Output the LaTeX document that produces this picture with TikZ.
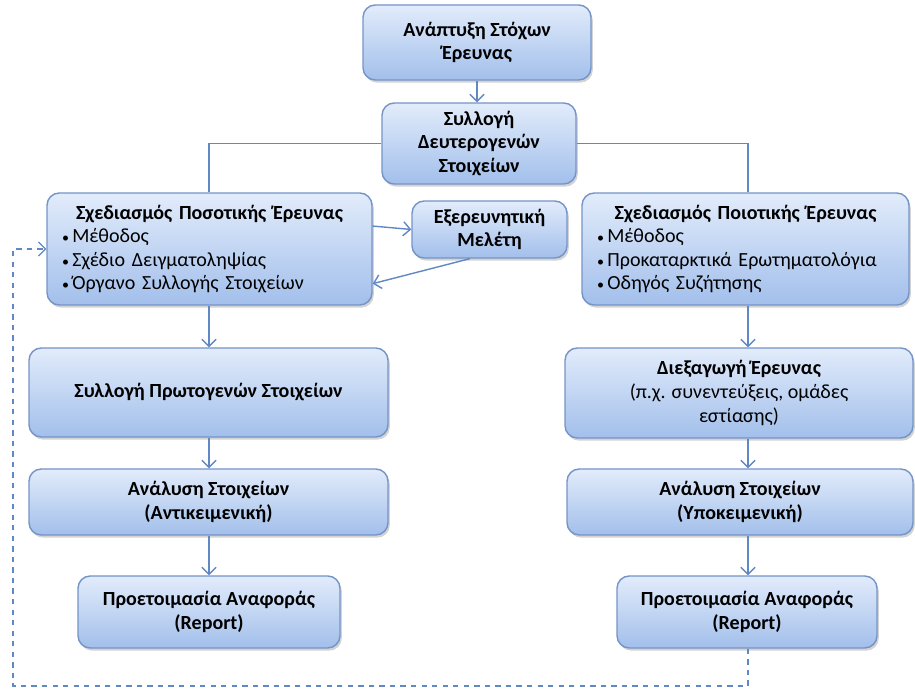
\documentclass[tikz,border=0pt]{standalone}
\usepackage{fontspec}
\setmainfont{Carlito}
\usepackage{xcolor}
\definecolor{boxtop}{RGB}{226,236,251}
\definecolor{boxbottom}{RGB}{162,191,235}
\definecolor{boxedge}{RGB}{116,148,200}
\definecolor{linkblue}{RGB}{96,136,196}
\usepackage{tikz}
\usetikzlibrary{arrows.meta, shadows}

\newcommand{\itembullet}{{\fontsize{8}{8}\selectfont\textbullet}\,}

\tikzset{
  stepbox/.style={draw=boxedge, line width=0.8pt, rounded corners=7pt,
    top color=boxtop, bottom color=boxbottom, align=center, inner sep=2pt,
    font=\fontsize{11.4}{13.4}\selectfont\bfseries,
    drop shadow={opacity=0.35, shadow xshift=1pt, shadow yshift=-1.5pt}},
  listbox/.style={stepbox, align=left, inner xsep=0.3cm,
    font=\fontsize{11.4}{13.4}\selectfont},
  joinline/.style={draw=linkblue, line width=0.8pt},
  link/.style={joinline, -{Straight Barb[length=4pt, width=8pt]}},
  feedback/.style={link, line width=0.7pt, dashed}
}

\begin{document}
\begin{tikzpicture}
  \useasboundingbox (0,0) rectangle (18.3,13.78);

  % Top of the chart
  \node[stepbox, minimum width=4.56cm, minimum height=1.5cm] (goal) at (9.54,12.93)
       {Ανάπτυξη Στόχων\\Έρευνας};
  \node[stepbox, minimum width=3.88cm, minimum height=1.62cm] (second) at (9.58,10.91)
       {Συλλογή\\Δευτερογενών\\Στοιχείων};

  % Design boxes
  \node[listbox, text width=5.9cm, minimum height=2.24cm] (quant) at (4.19,8.80)
       {{\centering\bfseries Σχεδιασμός Ποσοτικής Έρευνας\par}
        \itembullet Μέθοδος\\
        \itembullet Σχέδιο Δειγματοληψίας\\
        \itembullet Όργανο Συλλογής Στοιχείων};
  \node[stepbox, minimum width=3.1cm, minimum height=1.14cm] (explor) at (9.79,9.19)
       {Εξερευνητική\\Μελέτη};
  \node[listbox, text width=5.94cm, minimum height=2.24cm] (qual) at (14.91,8.80)
       {{\centering\bfseries Σχεδιασμός Ποιοτικής Έρευνας\par}
        \itembullet Μέθοδος\\
        \itembullet Προκαταρκτικά Ερωτηματολόγια\\
        \itembullet Οδηγός Συζήτησης};

  % Left column
  \node[stepbox, minimum width=7.18cm, minimum height=1.78cm] (primary) at (4.17,5.93)
       {Συλλογή Πρωτογενών Στοιχείων};
  \node[stepbox, minimum width=7.18cm, minimum height=1.32cm] (anlL) at (4.17,3.74)
       {Ανάλυση Στοιχείων\\(Αντικειμενική)};
  \node[stepbox, minimum width=5.24cm, minimum height=1.44cm] (repL) at (4.18,1.54)
       {Προετοιμασία Αναφοράς\\(Report)};

  % Right column
  \node[stepbox, minimum width=6.96cm, minimum height=1.8cm] (conduct) at (14.78,5.92)
       {Διεξαγωγή Έρευνας\\\mdseries(π.χ. συνεντεύξεις, ομάδες\\\mdseries εστίασης)};
  \node[stepbox, minimum width=6.92cm, minimum height=1.32cm] (anlR) at (14.80,3.74)
       {Ανάλυση Στοιχείων\\(Υποκειμενική)};
  \node[stepbox, minimum width=5.2cm, minimum height=1.44cm] (repR) at (14.94,1.54)
       {Προετοιμασία Αναφοράς\\(Report)};

  \coordinate (colL) at (4.18,0);
  \coordinate (colR) at (14.96,0);
  \coordinate (loopcorner) at (0.26,0.06);

  % Connectors
  \draw[link] (goal.south) -- (second.north -| goal.south);
  \draw[joinline] (second.west) -| (quant.north -| colL);
  \draw[joinline] (second.east) -| (qual.north -| colR);
  \draw[link] (quant.8) -- (explor.west);
  \draw[link] (explor.236) -- (quant.-12);

  \draw[link] (quant.south -| colL) -- (primary.north -| colL);
  \draw[link] (primary.south -| colL) -- (anlL.north -| colL);
  \draw[link] (anlL.south -| colL) -- (repL.north -| colL);

  \draw[link] (qual.south -| colR) -- (conduct.north -| colR);
  \draw[link] (conduct.south -| colR) -- (anlR.north -| colR);
  \draw[link] (anlR.south -| colR) -- (repR.north -| colR);

  % Feedback loop
  \draw[feedback] (repR.south -| colR) |- (loopcorner) |- (quant.west);
\end{tikzpicture}
\end{document}
